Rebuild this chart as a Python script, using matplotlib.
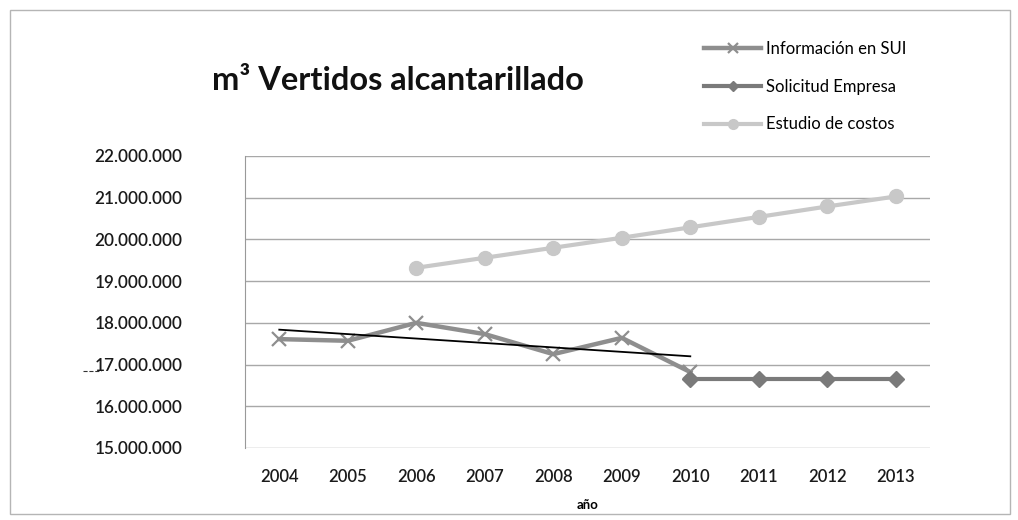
import numpy as np
import matplotlib.pyplot as plt
from matplotlib.ticker import FuncFormatter
from matplotlib.patches import Rectangle

plt.rcParams['font.family'] = ['Lato', 'DejaVu Sans']

years = [2004, 2005, 2006, 2007, 2008, 2009, 2010, 2011, 2012, 2013]

# Información en SUI (2004-2010)
sui_years = [2004, 2005, 2006, 2007, 2008, 2009, 2010]
sui = [17610000, 17570000, 18000000, 17730000, 17250000, 17640000, 16820000]

# Solicitud Empresa (2010-2013)
emp_years = [2010, 2011, 2012, 2013]
empresa = [16650000, 16650000, 16650000, 16650000]

# Estudio de costos (2006-2013)
est_years = [2006, 2007, 2008, 2009, 2010, 2011, 2012, 2013]
estudio = [19320000, 19560000, 19800000, 20040000, 20290000, 20540000, 20790000, 21030000]

fig = plt.figure(figsize=(10.18, 5.2), dpi=100)
ax = fig.add_axes([0.2407, 0.1385, 0.6729, 0.5615])

# chart outer border
fig.patches.append(Rectangle((0.010, 0.012), 0.982, 0.968, transform=fig.transFigure,
                             fill=False, edgecolor='#b5b5b5', linewidth=1))

ax.plot(sui_years, sui, color='#8e8e8e', linewidth=3.2, marker='x', markersize=10,
        markeredgewidth=1.6, label='Información en SUI', zorder=3)
ax.plot(emp_years, empresa, color='#7a7a7a', linewidth=3, marker='D', markersize=8,
        label='Solicitud Empresa', zorder=4)
ax.plot(est_years, estudio, color='#c8c8c8', linewidth=3, marker='o', markersize=10,
        label='Estudio de costos', zorder=3)

# linear trend of SUI series
coef = np.polyfit(sui_years, sui, 1)
tx = np.array([sui_years[0], sui_years[-1]])
ax.plot(tx, np.polyval(coef, tx), color='black', linewidth=1.3, zorder=5)

ax.set_xlim(2003.5, 2013.5)
ax.set_ylim(15000000, 22000000)
ax.set_xticks(years)
ax.set_yticks(np.arange(15000000, 22000001, 1000000))
ax.yaxis.set_major_formatter(FuncFormatter(lambda v, p: f'{int(v):,}'.replace(',', '.')))
ax.grid(axis='y', color='#a8a8a8', linewidth=1)
ax.set_axisbelow(True)
for s in ['top', 'right', 'bottom']:
    ax.spines[s].set_visible(False)
ax.spines['left'].set_color('#999999')
ax.tick_params(axis='y', length=0, pad=45, labelsize=12.3)
ax.tick_params(axis='x', length=0, pad=15, labelsize=12)
for lbl in ax.get_xticklabels() + ax.get_yticklabels():
    lbl.set_color('#1a1a1a')
    lbl.set_fontweight('semibold')

ax.set_xlabel('año', fontsize=9.5, fontweight='bold', labelpad=10)

fig.text(0.208, 0.845, 'm³ Vertidos alcantarillado', fontsize=23.5, fontweight='bold',
         color='#111111', va='center')

ax.legend(loc='upper left', bbox_to_anchor=(0.677, 0.95), bbox_transform=fig.transFigure,
          frameon=False, fontsize=12, handlelength=3.4, handletextpad=0.3,
          labelspacing=1.3, markerscale=0.7)

# pen mark next to 17.000.000
fig.add_artist(plt.Line2D([0.082, 0.099], [0.286, 0.286], transform=fig.transFigure,
                          color='#333333', linewidth=0.8, linestyle='--'))

fig.savefig('out.png', dpi=100)
